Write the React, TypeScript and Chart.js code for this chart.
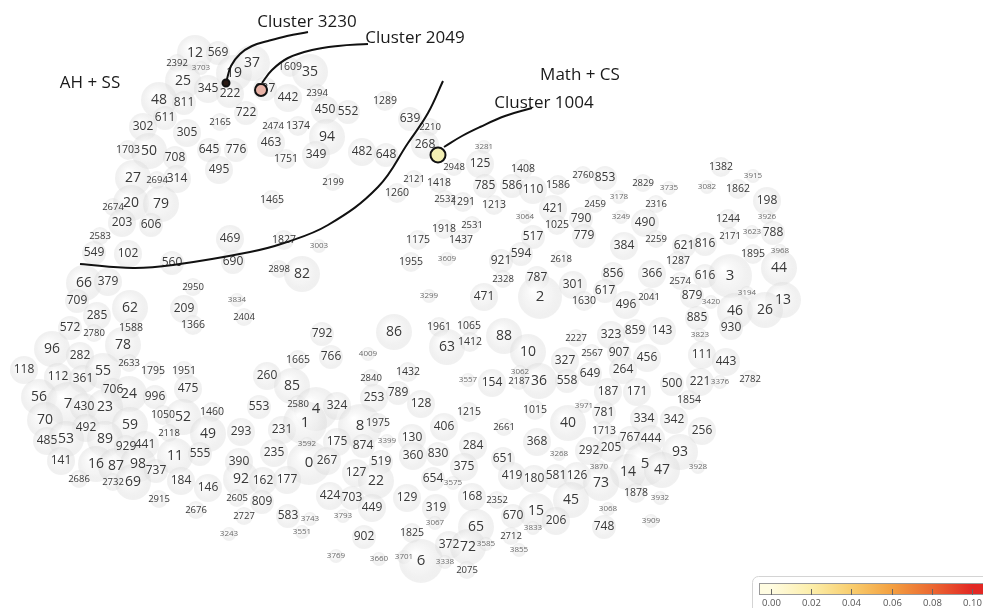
import React, { useEffect, useRef } from "react";
import { Chart, registerables } from "chart.js";
Chart.register(...registerables);

const W = 983;
const H = 608;

// [cluster id, x, y] in layout coordinates
const clusters: [number, number, number][] = [
  [12,195,53],[569,218,53],[2392,177,63],[3703,201,68],[19,234,73],[37,252,63],[1609,290,67],[35,310,72],
  [25,183,81],[345,208,89],[222,230,94],[637,265,89],[442,288,98],[2394,317,93],[48,159,100],[811,184,103],
  [722,246,113],[450,325,110],[552,348,112],[1289,385,101],[611,165,118],[2165,220,122],[302,143,127],
  [305,187,133],[2474,273,126],[1374,298,126],[639,410,119],[2210,430,127],[94,327,137],[463,271,143],
  [268,425,145],[1703,128,150],[50,149,151],[645,209,150],[776,236,150],[708,175,158],[1751,286,159],
  [349,316,155],[482,362,152],[648,386,155],[495,219,170],[27,133,178],[2694,157,180],[314,177,179],
  [2199,333,182],[2121,414,179],[1418,439,183],[1465,272,200],[1260,397,193],[2532,445,199],[1291,463,202],
  [2674,113,207],[20,131,203],[79,161,204],[203,122,223],[606,151,225],[2583,100,236],[549,94,253],
  [102,128,254],[469,230,239],[1827,284,240],[3003,319,246],[560,172,263],[690,233,262],
  [3281,484,147],[2948,454,167],[125,480,164],[1408,523,169],[785,485,186],[586,512,186],[110,533,190],
  [1586,558,185],[2760,583,175],[853,605,178],[2829,643,183],[3735,669,188],[3082,707,187],[1382,721,167],
  [3915,753,176],[1862,738,189],[198,767,201],[3926,767,217],[1244,728,219],[1213,494,205],[421,553,209],
  [2459,595,204],[3178,619,197],[2316,656,204],[3064,525,217],[1025,557,225],[790,581,219],[3249,621,217],
  [490,645,223],[1918,444,229],[2531,472,225],[1175,418,240],[1437,461,240],[517,533,237],[779,584,236],
  [384,624,246],[2259,656,239],[621,684,246],[816,705,244],[2171,730,236],[3623,752,232],[788,773,233],
  [1895,753,254],[3968,780,251],[44,779,268],[1955,411,262],[3609,447,259],[921,501,261],[594,521,254],
  [2618,561,259],[1287,678,261],[2328,503,279],[787,537,278],[856,613,274],[366,652,274],[2574,680,281],
  [616,705,276],[3,730,276],[301,573,285],[2,540,297],[471,484,297],[3299,429,296],[617,605,291],
  [1630,584,301],[496,626,305],[2041,649,297],[879,692,296],[3420,711,302],[3194,747,293],[13,783,300],
  [46,735,311],[26,765,310],[885,697,318],[930,731,328],
  [66,84,283],[379,108,282],[2950,193,287],[709,77,301],[62,130,308],[209,184,309],[3834,237,300],
  [2404,244,317],[285,97,316],[572,70,328],[2780,94,333],[1588,131,328],[1366,193,325],[78,123,345],
  [96,52,349],[282,80,356],[118,24,370],[2633,129,363],[1795,153,371],[1951,184,371],[112,58,377],
  [361,83,379],[55,103,371],[475,188,389],[706,113,390],[24,129,394],[996,155,397],[56,39,397],[7,68,404],
  [430,84,407],[23,105,407],[1050,163,415],[52,183,417],[1460,212,412],[2898,279,269],[82,302,274],
  [792,322,334],[86,394,332],[1961,439,327],[1065,469,326],[63,447,347],[1412,470,342],[1665,298,360],
  [766,331,357],[4009,368,354],[1432,408,372],[260,267,376],[85,292,386],[2840,371,378],[3557,468,380],
  [154,492,383],[253,374,398],[789,398,393],[128,421,404],[553,259,407],[2580,298,404],[4,316,409],
  [324,337,406],[1215,469,412],[88,504,336],[2227,576,338],[323,611,335],[859,635,331],[143,662,331],
  [3823,700,335],[10,528,352],[327,565,361],[2567,592,353],[907,619,353],[456,647,358],[111,702,355],
  [443,726,362],[3062,520,372],[2187,519,381],[36,539,381],[558,567,381],[649,590,374],[264,623,370],
  [187,608,392],[171,637,392],[500,672,384],[221,700,382],[3376,720,382],[2782,750,379],[1854,689,400],
  [3971,584,406],[781,604,413],[1015,535,410],
  [70,45,420],[492,86,428],[59,130,425],[485,47,441],[53,66,439],[89,105,439],[929,126,447],[441,145,445],
  [2118,169,433],[49,208,434],[293,241,432],[141,61,461],[16,96,464],[87,116,466],[98,138,464],[737,156,471],
  [11,175,456],[555,200,454],[390,239,462],[2686,79,479],[2732,113,482],[69,133,482],[184,181,481],
  [146,208,488],[92,241,479],[2915,159,499],[2605,237,498],[2676,196,510],[2727,244,516],[3243,229,534],
  [231,282,430],[1,305,423],[8,360,426],[1975,378,423],[406,444,427],[3592,307,444],[175,337,442],
  [874,363,446],[3399,387,441],[130,412,438],[284,473,446],[235,274,453],[0,309,463],[267,327,461],
  [519,381,462],[360,413,456],[830,438,454],[375,464,467],[162,263,481],[177,287,480],[127,356,473],
  [22,376,481],[654,433,479],[3575,453,483],[809,262,502],[424,330,496],[703,352,498],[129,407,498],
  [168,472,497],[2352,497,500],[449,372,508],[319,436,508],[583,288,516],[3743,310,519],[3793,343,516],
  [3067,435,523],[65,476,527],[3551,302,532],[902,364,537],[1825,412,533],[372,449,545],[72,468,547],
  [3585,486,544],[3769,336,556],[3660,379,559],[3701,404,557],[6,421,561],[3338,445,562],[2075,467,570],
  [40,568,423],[1713,604,431],[334,644,419],[342,674,420],[256,702,431],[2661,504,427],[368,537,442],
  [3268,559,454],[292,589,451],[205,611,448],[767,630,438],[444,651,439],[93,680,452],[651,503,459],
  [3870,599,467],[14,628,472],[5,645,464],[47,662,470],[3928,698,467],[419,512,476],[180,534,479],
  [581,556,476],[126,577,476],[73,601,483],[1878,636,493],[3932,660,498],[45,571,500],[15,536,511],
  [670,513,516],[3068,608,509],[206,556,521],[3833,533,528],[3909,651,521],[748,604,527],[2712,511,536],
  [3855,519,550],
];

const boundaryX = [80, 133, 173, 250, 284, 328, 378, 408, 428, 443];
const boundaryY = [264, 268, 265, 252, 243, 225, 187, 143, 113, 81];

const leader3230X = [226, 231, 240, 252, 268, 287, 308];
const leader3230Y = [83, 66, 54, 46, 41, 36, 32];
const leader2049X = [262, 272, 288, 312, 338, 368];
const leader2049Y = [83, 70, 58, 50, 46, 44];
const leader1004X = [444, 462, 480, 505, 532];
const leader1004Y = [147, 136, 127, 116, 108];

const highlightIds = [3230, 2049, 1004];
const highlightX = [226, 261, 438];
const highlightY = [83, 90, 155];
const highlightFill = ["#2a1a14", "#e8b2a6", "#f3efb4"];

const annotationTexts = ["AH + SS", "Math + CS", "Cluster 3230", "Cluster 2049", "Cluster 1004"];
const annotationX = [90, 580, 307, 415, 544];
const annotationY = [83, 75, 22, 38, 103];

const colorbarTicks = [0, 0.02, 0.04, 0.06, 0.08, 0.1];

const FONT = '"Open Sans", "Noto Sans", sans-serif';

function fontSizeFor(id: number) {
  if (id < 10) return 15;
  if (id < 100) return 14;
  if (id < 1000) return 12;
  if (id < 2000) return 10.5;
  if (id < 3000) return 9.5;
  return 8;
}
function radiusFor(id: number) {
  if (id < 10) return 22;
  if (id < 100) return 18;
  if (id < 500) return 14;
  if (id < 1000) return 12;
  if (id < 2000) return 10;
  if (id < 3000) return 9;
  return 7;
}

function shareColor(v: number) {
  const stops: [number, number[]][] = [
    [0, [255, 252, 225]],
    [0.02, [252, 238, 170]],
    [0.04, [248, 205, 110]],
    [0.06, [243, 160, 65]],
    [0.08, [235, 105, 50]],
    [0.1, [226, 40, 36]],
  ];
  for (let i = 1; i < stops.length; i++) {
    if (v <= stops[i][0]) {
      const [a, ca] = stops[i - 1];
      const [b, cb] = stops[i];
      const t = (v - a) / (b - a);
      const c = ca.map((c0, k) => Math.round(c0 + (cb[k] - c0) * t));
      return `rgb(${c[0]},${c[1]},${c[2]})`;
    }
  }
  return "rgb(226,40,36)";
}

export default function App() {
  const ref = useRef<HTMLCanvasElement | null>(null);
  useEffect(() => {
    const canvas = ref.current;
    if (!canvas) return;

    const labelPlugin = {
      id: "clusterLabels",
      afterDatasetDraw(chart: any, args: any) {
        if (args.index !== 0) return;
        const ctx = chart.ctx;
        const xs = chart.scales.x;
        const ys = chart.scales.y;
        ctx.save();
        ctx.textAlign = "center";
        ctx.textBaseline = "middle";
        for (const [id, x, y] of clusters) {
          ctx.font = `${fontSizeFor(id)}px ${FONT}`;
          ctx.fillStyle = id >= 3000 ? "#6a6a6a" : "#383838";
          ctx.fillText(String(id), xs.getPixelForValue(x), ys.getPixelForValue(y));
        }
        ctx.restore();
      },
      afterDraw(chart: any) {
        const ctx = chart.ctx;
        const xs = chart.scales.x;
        const ys = chart.scales.y;
        ctx.save();
        ctx.textAlign = "center";
        ctx.textBaseline = "middle";
        ctx.fillStyle = "#1a1a1a";
        ctx.font = `17px ${FONT}`;
        annotationTexts.forEach((t, i) => {
          ctx.fillText(t, xs.getPixelForValue(annotationX[i]), ys.getPixelForValue(annotationY[i]));
        });
        // colorbar
        const x0 = 771, x1 = 972;
        const vx = (v: number) => x0 + (v / 0.1) * (x1 - x0);
        ctx.strokeStyle = "#d4d4d4";
        ctx.lineWidth = 1;
        ctx.beginPath();
        if ((ctx as any).roundRect) (ctx as any).roundRect(752.5, 576.5, 240, 40, 6);
        else ctx.rect(752.5, 576.5, 240, 40);
        ctx.stroke();
        const g = ctx.createLinearGradient(vx(0), 0, vx(0.1), 0);
        for (let k = 0; k <= 10; k++) g.addColorStop(k / 10, shareColor(k * 0.01));
        ctx.fillStyle = g;
        ctx.fillRect(759, 583, 240, 11);
        ctx.strokeStyle = "#999";
        ctx.strokeRect(759.5, 583.5, 240, 11);
        ctx.strokeStyle = "#666";
        ctx.fillStyle = "#555";
        ctx.font = `9.5px ${FONT}`;
        for (const t of colorbarTicks) {
          const px = Math.round(vx(t)) + 0.5;
          ctx.beginPath();
          ctx.moveTo(px, 589);
          ctx.lineTo(px, 595);
          ctx.stroke();
          ctx.fillText(t.toFixed(2), px, 603);
        }
        ctx.restore();
      },
    };

    const bubbleData = clusters.map(([id, x, y]) => ({ x, y, r: radiusFor(id) }));
    const toPts = (xa: number[], ya: number[]) => xa.map((x, i) => ({ x, y: ya[i] }));

    const lineDs = (xa: number[], ya: number[]) =>
      ({
        type: "line",
        data: toPts(xa, ya),
        borderColor: "#111",
        borderWidth: 2,
        pointRadius: 0,
        tension: 0.4,
        fill: false,
        order: 3,
        clip: false,
      } as any);

    const chart = new Chart(canvas, {
      type: "bubble",
      data: {
        datasets: [
          {
            type: "bubble",
            data: bubbleData,
            order: 10,
            borderWidth: 0,
            clip: false,
            backgroundColor: (c: any) => {
              const fallback = "rgba(230,230,230,0.5)";
              const ch = c.chart;
              const raw = c.raw;
              if (!raw || !ch || !ch.scales || !ch.scales.x || !ch.scales.y) return fallback;
              const px = ch.scales.x.getPixelForValue(raw.x);
              const py = ch.scales.y.getPixelForValue(raw.y);
              const r = raw.r;
              if (![px, py, r].every((v) => Number.isFinite(v)) || r <= 0) return fallback;
              const gr = ch.ctx.createRadialGradient(px - r * 0.3, py - r * 0.35, r * 0.05, px, py, r);
              gr.addColorStop(0, "rgba(255,255,255,0.85)");
              gr.addColorStop(0.65, "rgba(236,236,236,0.6)");
              gr.addColorStop(1, "rgba(214,214,214,0.35)");
              return gr;
            },
          } as any,
          lineDs(boundaryX, boundaryY),
          lineDs(leader3230X, leader3230Y),
          lineDs(leader2049X, leader2049Y),
          lineDs(leader1004X, leader1004Y),
          {
            type: "scatter",
            data: toPts(highlightX, highlightY),
            pointRadius: [3.5, 6, 7.5],
            pointBackgroundColor: highlightFill,
            pointBorderColor: "#111",
            pointBorderWidth: 2,
            order: 1,
            clip: false,
            label: highlightIds.join(","),
          } as any,
        ],
      },
      options: {
        responsive: false,
        animation: false,
        layout: { padding: 0, autoPadding: false },
        plugins: { legend: { display: false }, tooltip: { enabled: false }, title: { display: false } },
        scales: {
          x: { type: "linear", min: 0, max: W, display: false },
          y: { type: "linear", min: 0, max: H, reverse: true, display: false },
        },
      } as any,
      plugins: [labelPlugin],
    });
    return () => chart.destroy();
  }, []);

  return (
    <div style={{ position: "absolute", left: 0, top: 0, width: W, height: H, background: "#fff" }}>
      <canvas ref={ref} width={W} height={H} style={{ display: "block", width: W, height: H }} />
    </div>
  );
}
